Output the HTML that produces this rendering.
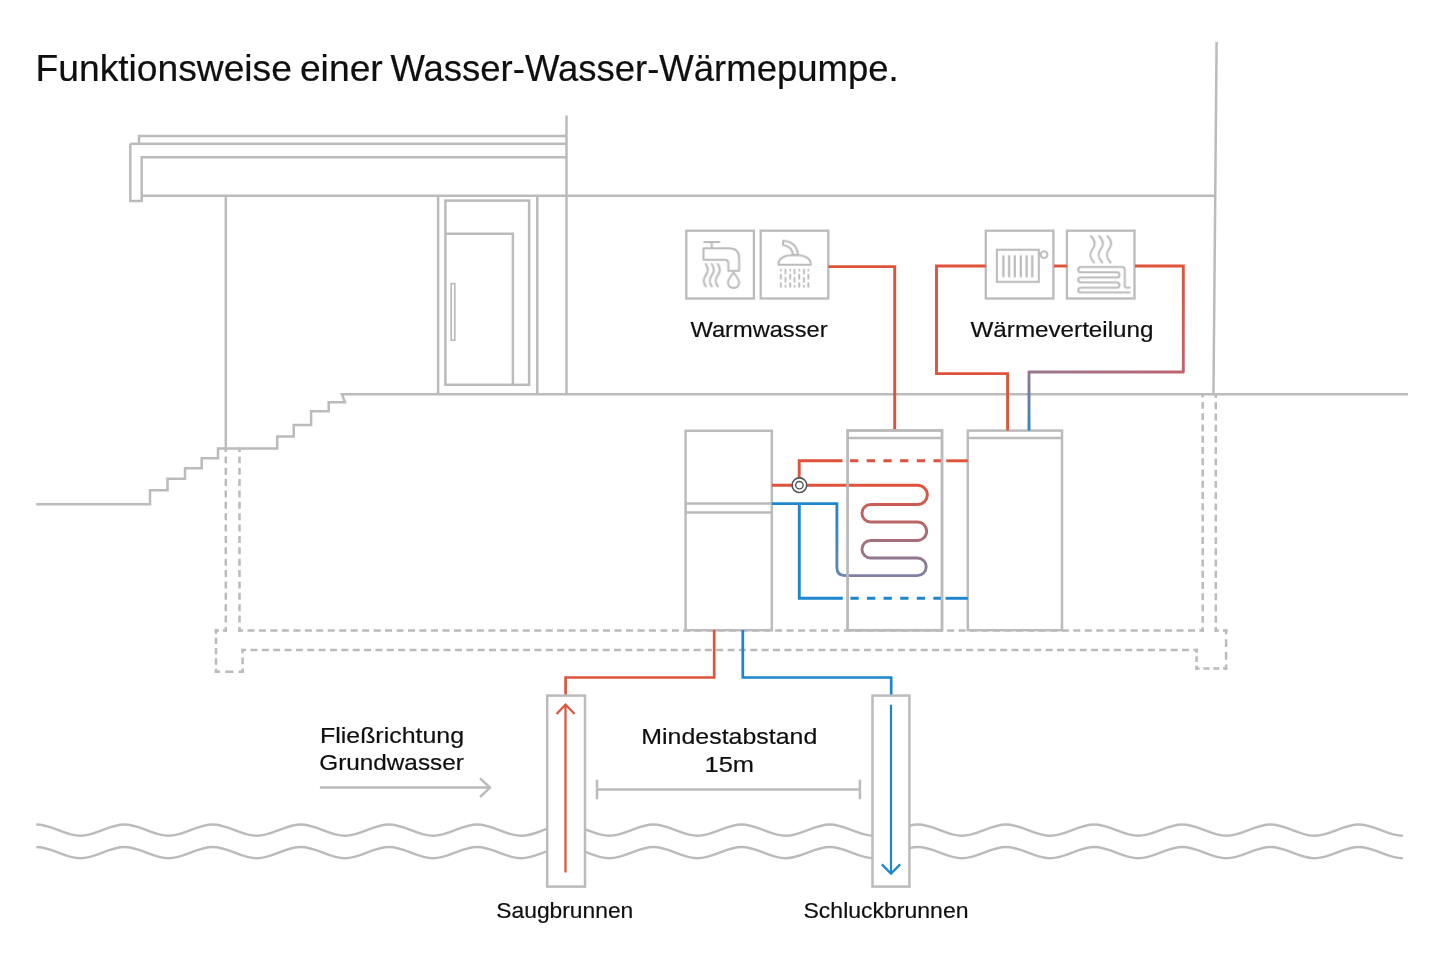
<!DOCTYPE html>
<html><head><meta charset="utf-8"><title>Funktionsweise einer Wasser-Wasser-Wärmepumpe</title>
<style>html,body{margin:0;padding:0;background:#fff;} svg{display:block;will-change:transform;}</style></head>
<body><svg width="1440" height="960" viewBox="0 0 1440 960">
<defs>
<linearGradient id="g1" gradientUnits="userSpaceOnUse" x1="0" y1="266" x2="0" y2="372"><stop offset="0" stop-color="#de533a"/><stop offset="1" stop-color="#c06470"/></linearGradient>
<linearGradient id="g2" gradientUnits="userSpaceOnUse" x1="1183" y1="0" x2="1029" y2="0"><stop offset="0" stop-color="#c06470"/><stop offset="1" stop-color="#98788f"/></linearGradient>
<linearGradient id="g3" gradientUnits="userSpaceOnUse" x1="0" y1="372" x2="0" y2="430"><stop offset="0" stop-color="#98788f"/><stop offset="1" stop-color="#2d86c8"/></linearGradient>
<linearGradient id="g4" gradientUnits="userSpaceOnUse" x1="0" y1="485" x2="0" y2="576"><stop offset="0" stop-color="#de533a"/><stop offset="1" stop-color="#8080a6"/></linearGradient>
<linearGradient id="g5" gradientUnits="userSpaceOnUse" x1="0" y1="503" x2="0" y2="576"><stop offset="0" stop-color="#1d86cc"/><stop offset="1" stop-color="#6a86b2"/></linearGradient>
</defs>
<g fill="none" stroke="#bbbbbb" stroke-width="2.5" stroke-linecap="butt" stroke-linejoin="miter">
<path d="M139,143.7 V136 H566.5"/>
<path d="M130.3,143.7 H566.5"/>
<path d="M130.3,143.7 V201 H141.7 V157.2 H566.5"/>
<path d="M141.7,195.7 H1215.5"/>
<path d="M566.5,115.5 V394.3"/>
<path d="M1216.6,42 L1213.6,380 L1213.4,394.3"/>
<path d="M225.8,195.7 V448.5"/>
<path d="M438.1,195.7 V394.3 M537.3,195.7 V394.3"/>
<rect x="445.4" y="200.6" width="83.7" height="184.2"/>
<path d="M445.4,233.8 H512.9 V384.8"/>
<rect x="451.2" y="283.6" width="3.6" height="56.6" stroke-width="1.7"/>
<path d="M36.2,504.2 H150 V490.3 H167.5 V478.7 H185 V468.3 H201.7 V458.3 H218 V448.5 H277.2 V436.4 H293.7 V425 H311.1 V411.3 H328.7 V402.2 H345 L341.9,394.2 H1408"/>
</g>
<g fill="none" stroke="#bbbbbb" stroke-width="2.5" stroke-linecap="square">
<path d="M225.8,448.5 L225.8,630.6" stroke-dasharray="2.24 6.89 2.24 0"/><path d="M225.8,630.6 L216,630.6" stroke-dasharray="1.76 6.28 1.76 0"/><path d="M216,630.6 L216,671.8" stroke-dasharray="1.91 6.48 1.91 0"/><path d="M216,671.8 L242.6,671.8" stroke-dasharray="2.83 7.63 2.83 0"/><path d="M242.6,671.8 L242.6,649.9" stroke-dasharray="2.11 6.73 2.11 0"/><path d="M242.6,649.9 L1196.6,649.9" stroke-dasharray="2.24 6.88 2.24 0"/><path d="M1196.6,649.9 L1196.6,668.4" stroke-dasharray="1.59 6.07 1.59 0"/><path d="M1196.6,668.4 L1226.1,668.4" stroke-dasharray="1.77 6.30 1.77 0"/><path d="M1226.1,668.4 L1226.1,630.5" stroke-dasharray="2.63 7.38 2.63 0"/><path d="M1226.1,630.5 L1215.8,630.5" stroke-dasharray="1.91 6.48 1.91 0"/><path d="M1215.8,630.5 L1215.8,394.2" stroke-dasharray="2.20 6.84 2.20 0"/>
<path d="M239.5,448.5 L239.5,630.6" stroke-dasharray="2.24 6.89 2.24 0"/><path d="M239.5,630.6 L1202.7,630.6" stroke-dasharray="2.27 6.93 2.27 0"/><path d="M1202.7,630.6 L1202.7,394.2" stroke-dasharray="2.21 6.84 2.21 0"/>
</g>
<g fill="#fff" stroke="#bbbbbb" stroke-width="2.5">
<rect x="685.6" y="430.8" width="86.2" height="199.4"/>
<path d="M685.6,503.4 H771.8 M685.6,512.5 H771.8" fill="none"/>
<rect x="847.6" y="430.5" width="94.4" height="199.7"/>
<path d="M847.6,438 H942" fill="none"/>
<rect x="967.8" y="430.6" width="94.2" height="199.6"/>
<path d="M967.8,438.1 H1062" fill="none"/>
</g>
<g fill="none" stroke="#bbbbbb" stroke-width="2.3">
<rect x="686.3" y="230.7" width="67.6" height="67.8"/>
<rect x="760.7" y="230.7" width="67.6" height="67.8"/>
<rect x="985.8" y="230.7" width="67.6" height="67.8"/>
<rect x="1066.9" y="230.7" width="67.6" height="67.8"/>
</g>
<svg x="684" y="228" width="72" height="72" viewBox="0 0 960 960" overflow="visible"><g fill="none" stroke="#bbbbbb" stroke-width="27" stroke-linecap="round" stroke-linejoin="round">
<path d="M270,188 H470 M370,188 V265"/>
<path d="M260,270 H600 Q735,270 735,405 V570 H590 V470 Q590,425 545,425 H260 Z"/>
<path d="M290,480 C330,540 330,580 290,630 C250,680 250,720 290,780"/>
<path d="M370,480 C410,540 410,580 370,630 C330,680 330,720 370,780"/>
<path d="M450,480 C490,540 490,580 450,630 C410,680 410,720 450,780"/>
<path d="M660,590 C620,650 585,690 585,725 C585,770 620,800 660,800 C700,800 735,770 735,725 C735,690 700,650 660,590 Z"/>
</g></svg>
<svg x="758" y="228" width="72" height="72" viewBox="0 0 960 960" overflow="visible"><g fill="none" stroke="#bbbbbb" stroke-width="27" stroke-linecap="round" stroke-linejoin="round">
<path d="M335,170 V225 Q450,240 470,360 H535 Q515,180 335,170 Z"/>
<path d="M272,490 Q272,360 488,360 Q705,360 705,490 Z"/>
</g><g fill="none" stroke="#bbbbbb" stroke-width="25" stroke-linecap="butt">
<path d="M305,545 V577 M305,612 V685 M305,725 V792"/>
<path d="M367,545 V617 M367,652 V725 M367,760 V792"/>
<path d="M430,545 V577 M430,612 V685 M430,725 V792"/>
<path d="M487,545 V617 M487,652 V725 M487,760 V792"/>
<path d="M550,545 V577 M550,612 V685 M550,725 V792"/>
<path d="M613,545 V617 M613,652 V725 M613,760 V792"/>
<path d="M672,545 V577 M672,612 V685 M672,725 V792"/>
</g></svg>
<svg x="984" y="228" width="72" height="72" viewBox="0 0 960 960" overflow="visible"><g fill="none" stroke="#bbbbbb" stroke-width="27">
<rect x="172" y="290" width="558" height="428"/>
<path d="M258,362 V655 M335,362 V655 M410,362 V655 M490,362 V655 M568,362 V655 M643,362 V655" stroke-width="30"/>
<circle cx="800" cy="355" r="45"/>
</g></svg>
<svg x="1064" y="228" width="72" height="72" viewBox="0 0 960 960" overflow="visible"><g fill="none" stroke="#bbbbbb" stroke-width="27" stroke-linecap="round" stroke-linejoin="round">
<path d="M360,110 C420,170 420,230 380,280 C340,330 340,400 400,460"/>
<path d="M470,110 C530,170 530,230 490,280 C450,330 450,400 510,460"/>
<path d="M580,110 C640,170 640,230 600,280 C560,330 560,400 620,460"/>
<path d="M875,795 H840 Q810,795 810,765 V560 Q810,520 770,520 H225 Q190,520 190,555 Q190,590 225,590 H705 Q740,590 740,625 Q740,660 705,660 H225 Q190,660 190,692 Q190,725 225,725 H705 Q740,725 740,760 Q740,795 705,795 H225 Q190,795 190,828 Q190,860 225,860 H875"/>
</g></svg>
<g fill="none" stroke-width="2.9" stroke-linejoin="miter">
<path d="M828.4,266.6 H894.7 V430.5" stroke="#de533a"/>
<path d="M985.8,266 H936.5 V373.6 H1007.6 V430.6" stroke="#de533a"/>
<path d="M1054,266 H1066.9" stroke="#de533a"/>
<path d="M1135,266 H1183.3 V372" stroke="url(#g1)"/>
<path d="M1184.5,372 H1029" stroke="url(#g2)"/>
<path d="M1029,370.8 V430.6" stroke="url(#g3)"/>
</g>
<g fill="none" stroke-width="2.9">
<path d="M799.2,485 V460.8 H842.5" stroke="#de533a"/>
<path d="M850,460.8 H942" stroke="#de533a" stroke-dasharray="8.3 8.4"/>
<path d="M946.2,460.8 H967.8" stroke="#de533a"/>
<path d="M771.8,485.2 H917.4 A9.9,9.65 0 0 1 917.4,504.5 H870.7 A8.75,8.75 0 0 0 870.7,522 H917.4 A9.25,9.25 0 0 1 917.4,540.5 H870.7 A8.75,8.75 0 0 0 870.7,558 H917.4 A8.8,8.8 0 0 1 917.4,575.6 H845" stroke="url(#g4)"/>
<path d="M771.8,503.6 H836.9 V567.6 Q836.9,575.6 844.9,575.6 H846" stroke="url(#g5)"/>
<path d="M799.3,503.6 V598.3 H842.8" stroke="#1d86cc"/>
<path d="M850.4,598.3 H942" stroke="#1d86cc" stroke-dasharray="8.3 8.3"/>
<path d="M945.6,598.3 H967.8" stroke="#1d86cc"/>
</g>
<rect x="847.6" y="430.5" width="94.4" height="199.7" fill="none" stroke="#bbbbbb" stroke-width="2.5"/>
<circle cx="799.4" cy="485.2" r="7.3" fill="#fff" stroke="#50555a" stroke-width="1.6"/>
<circle cx="799.4" cy="485.2" r="3.7" fill="#fff" stroke="#50555a" stroke-width="1.4"/>
<g fill="none" stroke="#bbbbbb" stroke-width="2.5">
<path d="M36.33,824.60 C52.38,824.60 64.36,835.80 80.41,835.80 C96.46,835.80 108.44,824.60 124.49,824.60 C140.54,824.60 152.52,835.80 168.57,835.80 C184.62,835.80 196.60,824.60 212.65,824.60 C228.70,824.60 240.68,835.80 256.73,835.80 C272.78,835.80 284.76,824.60 300.81,824.60 C316.86,824.60 328.84,835.80 344.89,835.80 C360.94,835.80 372.92,824.60 388.97,824.60 C405.02,824.60 417.00,835.80 433.05,835.80 C449.10,835.80 461.08,824.60 477.13,824.60 C493.18,824.60 505.16,835.80 521.21,835.80 C537.26,835.80 549.24,824.60 565.29,824.60 C581.34,824.60 593.32,835.80 609.37,835.80 C625.42,835.80 637.40,824.60 653.45,824.60 C669.50,824.60 681.48,835.80 697.53,835.80 C713.58,835.80 725.56,824.60 741.61,824.60 C757.66,824.60 769.64,835.80 785.69,835.80 C801.74,835.80 813.72,824.60 829.77,824.60 C845.82,824.60 857.80,835.80 873.85,835.80 C889.90,835.80 901.88,824.60 917.93,824.60 C933.98,824.60 945.96,835.80 962.01,835.80 C978.06,835.80 990.04,824.60 1006.09,824.60 C1022.14,824.60 1034.12,835.80 1050.17,835.80 C1066.22,835.80 1078.20,824.60 1094.25,824.60 C1110.30,824.60 1122.28,835.80 1138.33,835.80 C1154.38,835.80 1166.36,824.60 1182.41,824.60 C1198.46,824.60 1210.44,835.80 1226.49,835.80 C1242.54,835.80 1254.52,824.60 1270.57,824.60 C1286.62,824.60 1298.60,835.80 1314.65,835.80 C1330.70,835.80 1342.68,824.60 1358.73,824.60 C1374.78,824.60 1386.76,835.80 1402.81,835.80"/>
<path d="M36.33,847.00 C52.38,847.00 64.36,858.20 80.41,858.20 C96.46,858.20 108.44,847.00 124.49,847.00 C140.54,847.00 152.52,858.20 168.57,858.20 C184.62,858.20 196.60,847.00 212.65,847.00 C228.70,847.00 240.68,858.20 256.73,858.20 C272.78,858.20 284.76,847.00 300.81,847.00 C316.86,847.00 328.84,858.20 344.89,858.20 C360.94,858.20 372.92,847.00 388.97,847.00 C405.02,847.00 417.00,858.20 433.05,858.20 C449.10,858.20 461.08,847.00 477.13,847.00 C493.18,847.00 505.16,858.20 521.21,858.20 C537.26,858.20 549.24,847.00 565.29,847.00 C581.34,847.00 593.32,858.20 609.37,858.20 C625.42,858.20 637.40,847.00 653.45,847.00 C669.50,847.00 681.48,858.20 697.53,858.20 C713.58,858.20 725.56,847.00 741.61,847.00 C757.66,847.00 769.64,858.20 785.69,858.20 C801.74,858.20 813.72,847.00 829.77,847.00 C845.82,847.00 857.80,858.20 873.85,858.20 C889.90,858.20 901.88,847.00 917.93,847.00 C933.98,847.00 945.96,858.20 962.01,858.20 C978.06,858.20 990.04,847.00 1006.09,847.00 C1022.14,847.00 1034.12,858.20 1050.17,858.20 C1066.22,858.20 1078.20,847.00 1094.25,847.00 C1110.30,847.00 1122.28,858.20 1138.33,858.20 C1154.38,858.20 1166.36,847.00 1182.41,847.00 C1198.46,847.00 1210.44,858.20 1226.49,858.20 C1242.54,858.20 1254.52,847.00 1270.57,847.00 C1286.62,847.00 1298.60,858.20 1314.65,858.20 C1330.70,858.20 1342.68,847.00 1358.73,847.00 C1374.78,847.00 1386.76,858.20 1402.81,858.20"/>
</g>
<g fill="none" stroke-width="2.7">
<path d="M714.2,630 V677.5 H565.6 V696" stroke="#de533a"/>
<path d="M742.8,630 V677.5 H891.2 V696" stroke="#1d86cc"/>
</g>
<g fill="#fff" stroke="#bbbbbb" stroke-width="2.5">
<rect x="547.2" y="695.6" width="37.8" height="191"/>
<rect x="872.5" y="695.6" width="36.9" height="191"/>
</g>
<g fill="none" stroke-width="2.2" stroke-linecap="butt" stroke-linejoin="miter">
<path d="M565.5,872.5 V704 M556.6,714 L565.5,704.6 L574.6,714" stroke="#de533a"/>
<path d="M891,704.7 V873 M881.8,864.4 L891,873.6 L900.2,864.4" stroke="#1d86cc"/>
</g>
<g fill="none" stroke="#bbbbbb" stroke-width="2.5">
<path d="M319.9,787.6 H490 M480,778.3 L490,787.6 L480,797.2"/>
<path d="M597,789.5 H859.9 M597,779.8 V799.2 M859.9,779.8 V799.2"/>
</g>
<g style='font-family:"Liberation Sans",sans-serif' fill="#0f0f0f" stroke="#0f0f0f" stroke-width="0.2">
<text x="35.6" y="81" font-size="36" text-anchor="start" textLength="256.3" lengthAdjust="spacingAndGlyphs">Funktionsweise</text>
<text x="299.9" y="81" font-size="36" text-anchor="start" textLength="82.9" lengthAdjust="spacingAndGlyphs">einer</text>
<text x="390.4" y="81" font-size="36" text-anchor="start" textLength="508.3" lengthAdjust="spacingAndGlyphs">Wasser-Wasser-Wärmepumpe.</text>
<text x="690.5" y="337.4" font-size="22.5" text-anchor="start" textLength="137.0" lengthAdjust="spacingAndGlyphs">Warmwasser</text>
<text x="970.5" y="336.9" font-size="22.5" text-anchor="start" textLength="183.0" lengthAdjust="spacingAndGlyphs">Wärmeverteilung</text>
<text x="320.0" y="742.8" font-size="22.5" text-anchor="start" textLength="144.0" lengthAdjust="spacingAndGlyphs">Fließrichtung</text>
<text x="319.3" y="770.4" font-size="22.5" text-anchor="start" textLength="144.5" lengthAdjust="spacingAndGlyphs">Grundwasser</text>
<text x="641.3" y="744.2" font-size="22.5" text-anchor="start" textLength="176.0" lengthAdjust="spacingAndGlyphs">Mindestabstand</text>
<text x="704.5" y="772.4" font-size="22.5" text-anchor="start" textLength="49.5" lengthAdjust="spacingAndGlyphs">15m</text>
<text x="496.3" y="917.8" font-size="22.5" text-anchor="start" textLength="137.0" lengthAdjust="spacingAndGlyphs">Saugbrunnen</text>
<text x="803.5" y="918" font-size="22.5" text-anchor="start" textLength="165.0" lengthAdjust="spacingAndGlyphs">Schluckbrunnen</text>
</g>
</svg></body></html>
